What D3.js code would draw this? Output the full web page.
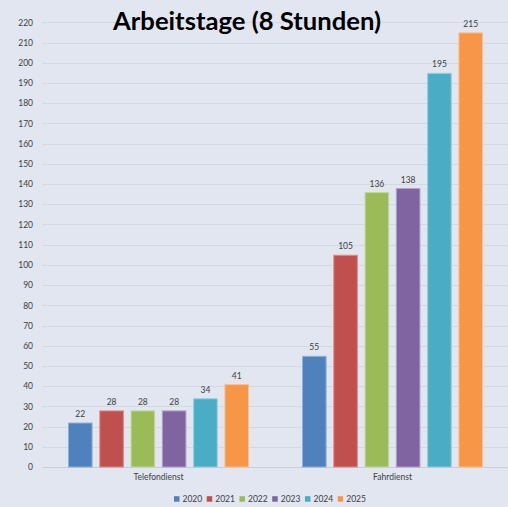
<!DOCTYPE html>
<html><head><meta charset="utf-8">
<script src="https://cdn.jsdelivr.net/npm/d3@7/dist/d3.min.js"></script>
<style>
html,body{margin:0;padding:0;background:#e1e6f0;}
svg{display:block;}
text{font-family:Lato,"Open Sans",sans-serif;}
</style></head>
<body>
<svg id="chart" width="508" height="507"></svg>
<script>
const title = "Arbeitstage (8 Stunden)";
const categories = ["Telefondienst", "Fahrdienst"];
const years = ["2020", "2021", "2022", "2023", "2024", "2025"];
const telefondienst = [22, 28, 28, 28, 34, 41];
const fahrdienst = [55, 105, 136, 138, 195, 215];
const colors = ["#4f81bd", "#c0504d", "#9bbb59", "#8064a2", "#4bacc6", "#f79646"];
const borders = ["#8fb0d8", "#dc8c8a", "#c3d89c", "#b3a0c9", "#92d0e0", "#fbc08f"];
const yTicks = d3.range(0, 221, 10);

const seriesByCat = {"Telefondienst": telefondienst, "Fahrdienst": fahrdienst};

const svg = d3.select("#chart");
svg.append("rect").attr("width", 508).attr("height", 507).attr("fill", "#e1e6f0");

const y = d3.scaleLinear().domain([0, 220]).range([467, 22.3]);
const x0 = d3.scaleBand().domain(categories).range([41, 509]).padding(0);
const x1 = d3.scaleBand().domain(years).range([27, 208]).paddingInner(0.214).paddingOuter(0);

// gridlines
svg.append("g").selectAll("line").data(yTicks).join("line")
  .attr("x1", 42).attr("x2", 508)
  .attr("y1", d => Math.round(y(d)) + 0.5).attr("y2", d => Math.round(y(d)) + 0.5)
  .attr("stroke", d => d === 0 ? "#c8cdd6" : "#d3d8e1").attr("stroke-width", 1);

// y axis labels
const yAxis = d3.axisLeft(y).tickValues(yTicks).tickSize(0).tickPadding(0);
const gy = svg.append("g").attr("transform", "translate(33,0)").call(yAxis);
gy.select(".domain").remove();
gy.selectAll("text").attr("font-size", 8.5).attr("fill", "#404040")
  .attr("font-family", "Lato, 'Open Sans', sans-serif");

// bars
const groups = svg.append("g").selectAll("g").data(categories).join("g")
  .attr("transform", d => `translate(${x0(d)},0)`);

groups.selectAll("rect").data(c => years.map((yr, i) => ({yr, i, v: seriesByCat[c][i]})))
  .join("rect")
  .attr("x", d => x1(d.yr) + 0.5)
  .attr("width", x1.bandwidth() - 1)
  .attr("y", d => y(d.v) + 0.5)
  .attr("height", d => y(0) - y(d.v) - 0.5)
  .attr("fill", d => colors[d.i])
  .attr("stroke", d => borders[d.i])
  .attr("stroke-width", 1);

groups.selectAll("text.val").data(c => years.map((yr, i) => ({yr, i, v: seriesByCat[c][i]})))
  .join("text").attr("class", "val")
  .attr("x", d => x1(d.yr) + x1.bandwidth() / 2)
  .attr("y", d => y(d.v) - 5.5)
  .attr("text-anchor", "middle")
  .attr("font-size", 8.5).attr("fill", "#404040")
  .text(d => d.v);

// category labels
const xAxis = d3.axisBottom(x0).tickSize(0).tickPadding(0);
const gx = svg.append("g").attr("transform", "translate(0,474)").call(xAxis);
gx.select(".domain").remove();
gx.selectAll("text").attr("font-size", 8.5).attr("fill", "#404040")
  .attr("font-family", "Lato, 'Open Sans', sans-serif")
  .attr("dy", "0.71em")
  .attr("transform", function(d){ return `translate(${x0.bandwidth()/2 - x0.bandwidth()/2 + (117.5 - x0.bandwidth()/2)},0)`; });

// legend
const legX = d3.scalePoint().domain(years).range([174, 337.7]);
const leg = svg.append("g").selectAll("g").data(years).join("g")
  .attr("transform", d => `translate(${legX(d)},496)`);
leg.append("rect").attr("width", 5.5).attr("height", 5.5).attr("y", 0.2)
  .attr("fill", (d, i) => colors[i]);
leg.append("text").attr("x", 8.5).attr("y", 6).attr("font-size", 8.5)
  .attr("fill", "#404040").text(d => d);

// title
const t = svg.append("text").attr("x", 247).attr("y", 29.5)
  .attr("text-anchor", "middle").attr("font-weight", "bold")
  .attr("font-size", 26).attr("fill", "#000").text(title);
const w = t.node().getComputedTextLength();
t.attr("font-size", 26 * 268 / w);
</script>
</body></html>
